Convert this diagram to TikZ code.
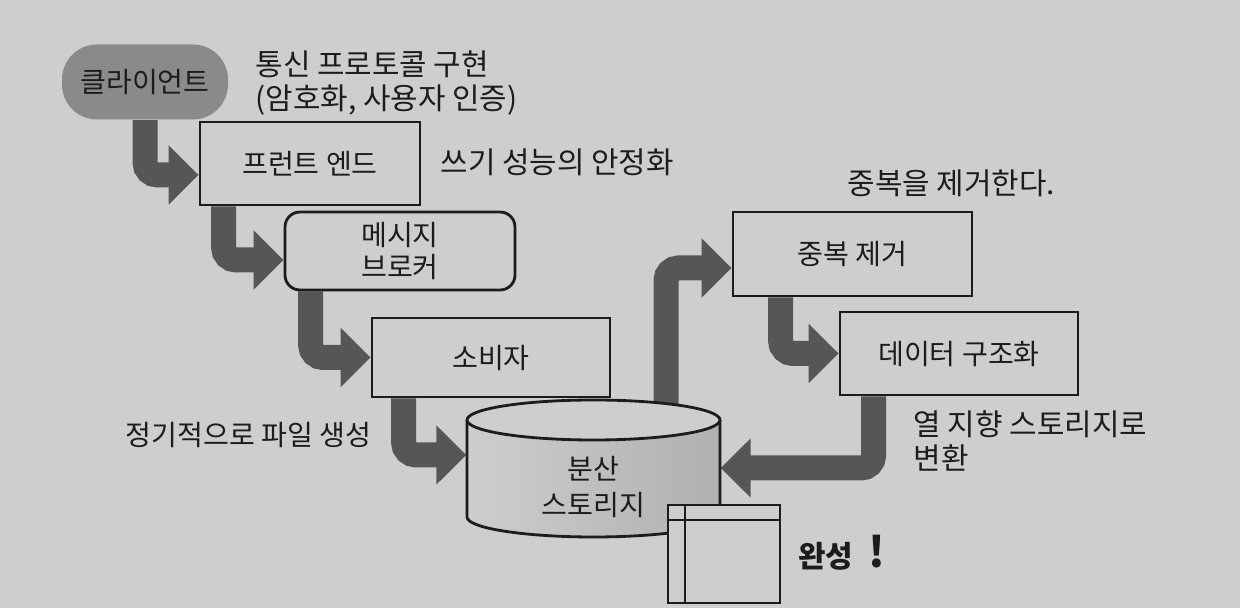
\documentclass[tikz,border=0pt]{standalone}
\usepackage{fontspec}
\setmainfont{Noto Sans CJK KR}
\usetikzlibrary{arrows.meta,backgrounds}

\definecolor{paper}{RGB}{206,206,204}
\definecolor{flowgray}{RGB}{86,86,86}
\definecolor{pillgray}{RGB}{138,138,138}
\definecolor{ink}{RGB}{28,28,28}

\begin{document}
\begin{tikzpicture}[thick, font=\fontsize{16pt}{18pt}\selectfont, text=ink,
  box/.style={draw=ink, line width=1.6pt, fill=paper, align=center},
  pill/.style={fill=pillgray, rounded corners=0.7cm},
  flow/.style={draw=flowgray, line width=0.5cm, rounded corners=0.25cm,
    -{Triangle[length=0.6cm,width=1.15cm]}},
  note/.style={anchor=west, align=left, inner sep=0pt, font=\fontsize{17pt}{19pt}\selectfont}]

\useasboundingbox (0,0) rectangle (24.8,12.16);

%\draw[help lines] (0,0) grid (24.8,12.16);
				\node [pill, minimum width=3.32cm, minimum height=1.5cm] (client) at (2.9,10.52) {클라이언트};
				\node [box, minimum width=4.4cm, minimum height=1.66cm] (front) at (6.2,8.89) {프런트 엔드};
				\node [box, rounded corners=0.3cm, minimum width=4.6cm, minimum height=1.56cm] (broker) at (8.0,7.14) {메시지\\브로커};
				\node [box, minimum width=4.76cm, minimum height=1.58cm] (consumer) at (9.82,5.01) {소비자};
				\node [box, minimum width=4.78cm, minimum height=1.68cm] (dedup) at (17.05,7.08) {중복 제거};
				\node [box, minimum width=4.76cm, minimum height=1.66cm] (struct) at (19.18,5.09) {데이터 구조화};

				% storage cylinder
				\shade [left color=paper, right color=gray!62!white] (9.34,3.76) -- (9.34,1.82) arc [start angle=180, end angle=360, x radius=2.53, y radius=0.4] -- (14.4,3.76) -- cycle;
				\draw [draw=ink, line width=1.6pt] (9.34,3.76) -- (9.34,1.82) arc [start angle=180, end angle=360, x radius=2.53, y radius=0.4] -- (14.4,3.76);
				\draw [draw=ink, line width=1.6pt, fill=paper] (11.87,3.76) ellipse [x radius=2.53, y radius=0.4];
				\node [align=center, minimum width=5.06cm, inner sep=0pt, font=\fontsize{16pt}{20pt}\selectfont] (storage) at (11.87,2.42) {분산\\스토리지};

				% table icon
				\draw [draw=ink, line width=1.6pt, fill=paper] (13.36,0.1) rectangle (15.6,2.06);
				\draw [draw=ink, line width=1.6pt] (13.36,1.76) -- (15.6,1.76); %header
				\draw [draw=ink, line width=1.6pt] (13.7,0.1) -- (13.7,2.06); %first column
				\coordinate (storagetop) at (13.32,3.8);

				\node [note] (protocol) at (5.1,10.5) {통신 프로토콜 구현\\(암호화, 사용자 인증)};
				\node [note] (stable) at (8.8,8.92) {쓰기 성능의 안정화};
				\node [note] (dedupnote) at (16.94,8.5) {중복을 제거한다.};
				\node [note] (colnote) at (18.26,3.34) {열 지향 스토리지로\\변환};
				\node [note, font=\fontsize{16pt}{18pt}\selectfont] (periodic) at (2.5,3.46) {정기적으로 파일 생성};
				\node [note, font=\fontsize{17pt}{19pt}\selectfont\bfseries] (done) at (15.95,1.1) {완성\hspace{0.3cm}{\fontsize{24pt}{24pt}\selectfont !}};

\begin{scope}[on background layer]
				\fill [paper] (0,0) rectangle (24.8,12.16);
				\draw [flow] (client.south) |- ([yshift=-0.23cm]front.west); %first arrow
				\draw [flow] ([xshift=0.5cm]front.south west) |- ([yshift=-0.18cm]broker.west);
				\draw [flow] ([xshift=0.54cm]broker.south west) |- (consumer.west);
				\draw [flow] ([xshift=0.66cm]consumer.south west) |- ([yshift=0.64cm]storage.west);
				\draw [flow] (storagetop) |- ([yshift=-0.28cm]dedup.west);
				\draw [flow] ([xshift=0.98cm]dedup.south west) |- (struct.west);
				\draw [flow] ([xshift=0.7cm]struct.south west) |- ([yshift=0.38cm]storage.east); %back to storage
\end{scope}

\end{tikzpicture}
\end{document}
